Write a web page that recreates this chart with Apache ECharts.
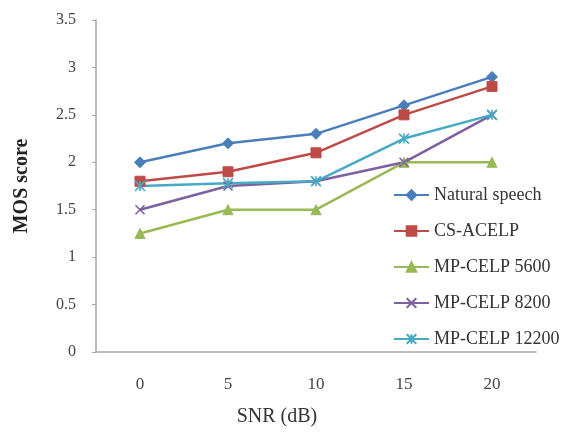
<!DOCTYPE html>
<html>
<head>
<meta charset="utf-8">
<style>
  html, body { margin: 0; padding: 0; background: #ffffff; }
  #chart { width: 584px; height: 432px; }
</style>
<script src="https://cdn.jsdelivr.net/npm/echarts@6/dist/echarts.min.js"></script>
</head>
<body>
<div id="chart"></div>
<script>
// SNR levels (dB) on the x axis
const snrLevels = ['0', '5', '10', '15', '20'];

// MOS scores per codec
const naturalSpeech = [2.0, 2.2, 2.3, 2.6, 2.9];
const csAcelp      = [1.8, 1.9, 2.1, 2.5, 2.8];
const mpCelp5600   = [1.25, 1.5, 1.5, 2.0, 2.0];
const mpCelp8200   = [1.5, 1.75, 1.8, 2.0, 2.5];
const mpCelp12200  = [1.75, 1.78, 1.8, 2.25, 2.5];

const seriesNames = ['Natural speech', 'CS-ACELP', 'MP-CELP 5600', 'MP-CELP 8200', 'MP-CELP 12200'];
const seriesColors = ['#4A7EBB', '#BE4B48', '#98B954', '#7D60A0', '#46AAC5'];

const serif = '"Liberation Serif", "Times New Roman", serif';

// stroked marker shapes: a cross and an asterisk-like star
const crossPath = 'path://M0,0L10,10M10,0L0,10';
const starPath = 'path://M0,0L10,10M10,0L0,10M5,0L5,10';

function lineSeries(name, data, color, symbol, size, stroked) {
  return {
    name: name,
    type: 'line',
    data: data,
    symbol: symbol,
    symbolSize: size,
    lineStyle: { color: color, width: 2.5 },
    itemStyle: stroked
      ? { color: 'rgba(0,0,0,0)', borderColor: color, borderWidth: 1.6 }
      : { color: color, borderColor: color, borderWidth: 1 },
    emphasis: { disabled: true },
    z: 3
  };
}

const chart = echarts.init(document.getElementById('chart'), null, { renderer: 'canvas' });

chart.setOption({
  animation: false,
  backgroundColor: '#ffffff',
  color: seriesColors,
  grid: { left: 96, right: 48, top: 20, bottom: 80, containLabel: false },
  legend: {
    orient: 'vertical',
    left: 393,
    top: 186,
    padding: 0,
    itemWidth: 35,
    itemHeight: 12,
    itemGap: 18,
    textStyle: { fontFamily: serif, fontSize: 18, color: '#333333' },
    data: seriesNames
  },
  xAxis: {
    type: 'category',
    data: snrLevels,
    boundaryGap: true,
    axisLine: { lineStyle: { color: '#a6a6a6', width: 1.5 } },
    axisTick: { show: false },
    axisLabel: { fontFamily: serif, fontSize: 17, color: '#444444', margin: 24 },
    splitLine: { show: false }
  },
  yAxis: {
    type: 'value',
    min: 0,
    max: 3.5,
    interval: 0.5,
    name: 'MOS score',
    nameLocation: 'middle',
    nameRotate: 90,
    nameGap: 64,
    nameTextStyle: { fontFamily: serif, fontSize: 20, fontWeight: 'bold', color: '#222222' },
    axisLine: { show: true, lineStyle: { color: '#a6a6a6', width: 1.5 } },
    axisTick: { show: true, length: 4, lineStyle: { color: '#a6a6a6' } },
    axisLabel: { fontFamily: serif, fontSize: 16, color: '#444444', margin: 20 },
    splitLine: { show: false }
  },
  graphic: [{
    type: 'text',
    x: 277,
    y: 417,
    style: {
      text: 'SNR (dB)',
      font: '20px ' + serif,
      fill: '#333333',
      align: 'center',
      verticalAlign: 'middle'
    }
  }],
  series: [
    lineSeries(seriesNames[0], naturalSpeech, seriesColors[0], 'diamond', 11, false),
    lineSeries(seriesNames[1], csAcelp, seriesColors[1], 'rect', 10, false),
    lineSeries(seriesNames[2], mpCelp5600, seriesColors[2], 'triangle', 10, false),
    lineSeries(seriesNames[3], mpCelp8200, seriesColors[3], crossPath, 9, true),
    lineSeries(seriesNames[4], mpCelp12200, seriesColors[4], starPath, 10, true)
  ]
});
</script>
</body>
</html>
